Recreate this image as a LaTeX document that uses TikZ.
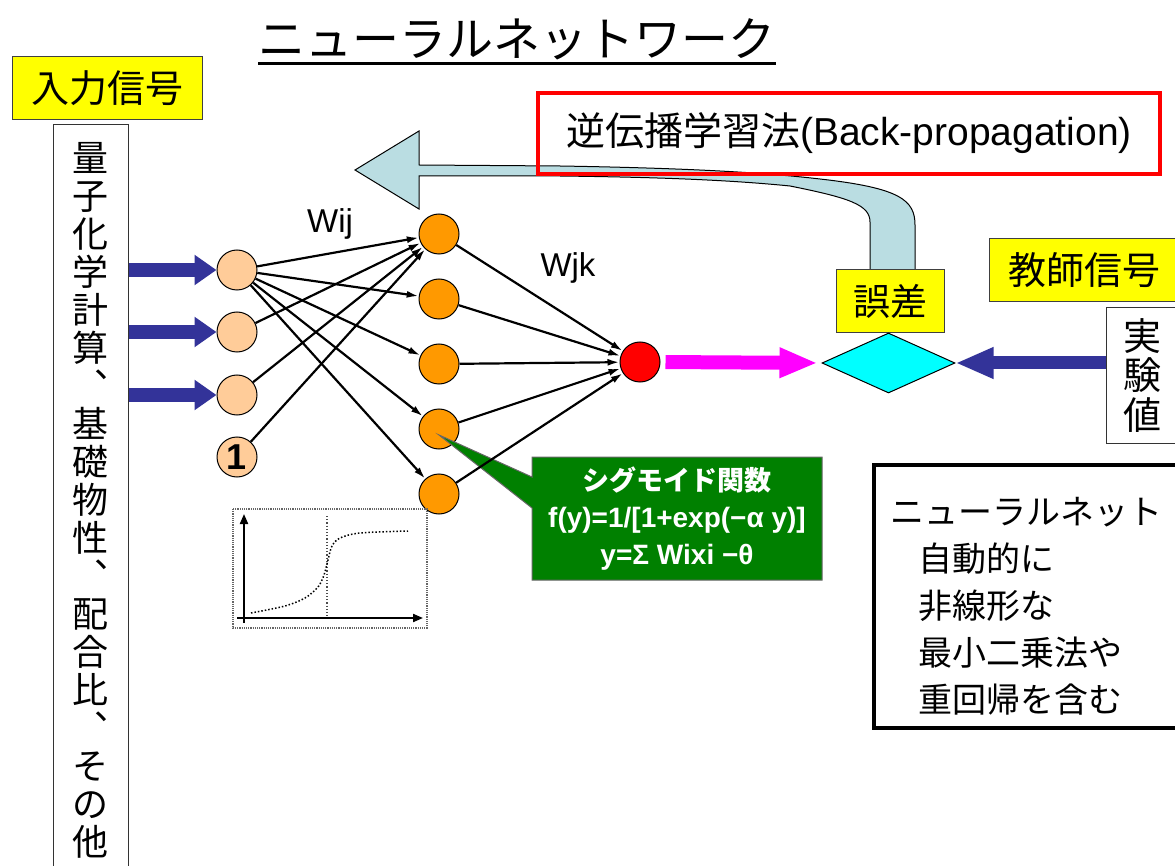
\documentclass[tikz,border=0pt]{standalone}
\usepackage{fontspec}
\setmainfont{Liberation Sans}
\newfontfamily\jp{Noto Sans CJK JP}
\usetikzlibrary{arrows.meta,positioning,calc,shapes.geometric}
\definecolor{sigyel}{HTML}{FFFF00}
\definecolor{inpeach}{HTML}{FFCC99}
\definecolor{hidorange}{HTML}{FF9900}
\definecolor{outred}{HTML}{FF0000}
\definecolor{navy}{HTML}{333399}
\definecolor{magen}{HTML}{FF00FF}
\definecolor{diacyan}{HTML}{00FFFF}
\definecolor{callgreen}{HTML}{008000}
\definecolor{bpblue}{HTML}{BADDE2}
\newcommand{\pxfont}[2]{\fontsize{#1}{#2}\selectfont}
\tikzset{
  ttl/.style={inner sep=0pt,font={\jp\pxfont{47}{47}}},
  ybox/.style={draw=black!75,line width=1pt,fill=sigyel,inner sep=0pt,
    font={\jp\pxfont{38}{40}}},
  wbox/.style={draw=black!80,line width=1pt,fill=white,inner sep=0pt,align=center},
  % --- neurons ---
  neuron/.style={circle,draw=black,line width=1pt,minimum size=40pt,inner sep=0pt},
  nin/.style={neuron,fill=inpeach},
  nhid/.style={neuron,fill=hidorange},
  nout/.style={neuron,fill=outred},
  syn/.style={-{Latex[length=12pt,width=7pt]},line width=2.2pt},
  wlab/.style={font=\pxfont{33}{33}},
  % --- fat block arrows ---
  fatin/.style={draw=navy,line width=14pt,-{Triangle[length=22pt,width=29pt]}},
  fatexp/.style={draw=navy,line width=13pt,-{Triangle[length=38pt,width=29pt]}},
  fatout/.style={draw=magen,line width=14pt,-{Triangle[length=38pt,width=28pt]}},
  calltext/.style={text=white,align=center,font={\bfseries\pxfont{28}{37}}},
}

\begin{document}
\begin{tikzpicture}[x=1pt,y=-1pt]
  \useasboundingbox (0,0) rectangle (1175,866);
  % title
  \node[ttl] (title) at (517,39) {ニューラルネットワーク};
  \draw[line width=2.5pt] ([yshift=-3.5pt]title.south west) -- ([yshift=-3.5pt]title.south east);

  % back-propagation arrow, behind the red frame
  \filldraw[fill=bpblue,draw=black,line width=1pt]
    (355,170) -- (419,131) -- (419,165) -- (560,166)
    .. controls (680,168) and (760,172) .. (820,179)
    .. controls (900,188) and (915,200) .. (915,225) -- (915,270) -- (870,270) -- (870,222)
    .. controls (870,205) and (850,198) .. (790,186)
    .. controls (720,179) and (640,177) .. (560,176) -- (419,176) -- (419,209) -- cycle;
  \node[draw=outred,line width=4pt,minimum width=622pt,minimum height=81pt,inner sep=0pt,
    font=\pxfont{39}{39}] (bp) at (849,133.5) {{\jp 逆伝播学習法}(Back-propagation)};

  % input side
  \node[ybox,minimum width=190pt,minimum height=63pt] (inlab) at (107,88.5) {入力信号};
  \node[wbox,font={\jp\pxfont{36}{38}},minimum width=75pt,minimum height=750pt] (src) at (90.5,500)
    {量\\子\\化\\学\\計\\算\\︑\\基\\礎\\物\\性\\︑\\配\\合\\比\\︑\\そ\\の\\他};

  \node[nin] (i1) at (237,270) {};
  \node[nin,below=21pt of i1] (i2) {};
  \node[nin,below=22pt of i2] (i3) {};
  \node[nin,below=21pt of i3,font=\bfseries\pxfont{36}{36}] (b) {1};

  \node[nhid] (h1) at (439,234) {};
  \node[nhid,below=24pt of h1] (h2) {};
  \node[nhid,below=24pt of h2] (h3) {};
  \node[nhid,below=24pt of h3] (h4) {};
  \node[nhid,below=24pt of h4] (h5) {};
  \node[nout] (o) at (640,362) {};

  \node[wlab] (wij) at (330,224) {Wij};
  \node[wlab] (wjk) at (568,268) {Wjk};

  % sigmoid sketch
  \draw[densely dotted,black!60,line width=1.2pt] (233,509) rectangle (427,628);
  \draw[line width=2pt,-{Triangle[length=10pt,width=8pt]}] (244,623) -- (244,514);
  \draw[line width=2pt,-{Triangle[length=10pt,width=8pt]}] (237,618) -- (423,618);
  \draw[dotted,black!70,line width=1.2pt] (327,516) -- (327,618);
  \draw[dotted,line width=1.5pt] plot[smooth] coordinates
    {(251,613) (285,606) (305,598) (318,587) (324,575) (328,560) (332,546) (340,538) (360,533) (408,531)};

  % callout on h4
  \coordinate (cnw) at (532,457);
  \coordinate (cse) at (822,580);
  \filldraw[fill=callgreen,draw=black!60,line width=1pt]
    (cnw) -- (cnw -| cse) -- (cse) -- (cse -| cnw) -- ($(cse -| cnw)+(0,-72)$)
    -- ($(h4.center)+(0,6)$) -- ($(cnw)+(0,20)$) -- cycle;
  \node[calltext] (call) at ($(cnw)!0.5!(cse)$)
    {{\jp\pxfont{27}{37}シグモイド関数}\\f(y)=1/[1+exp(−α y)]\\y=Σ Wixi −θ};

  % synapses
  \foreach \k in {1,...,5} \draw[syn] (i1) -- (h\k);
  \foreach \n in {i2,i3,b} \draw[syn] (\n) -- (h1);
  \foreach \k in {1,...,5} \draw[syn] (h\k) -- (o);
  \foreach \n in {i1,i2,i3} \draw[fatin] (src.east |- \n) -- (\n.west);

  % error and teacher signal
  \node[ybox,font={\jp\pxfont{37}{37}},minimum width=108pt,minimum height=63pt] (err) at (890,301.5) {誤差};
  \node[diamond,draw=black,line width=1pt,fill=diacyan,minimum width=133pt,minimum height=60pt,
    inner sep=0pt] (diff) at (888.5,363) {};
  \node[ybox,minimum width=190pt,minimum height=63pt] (teach) at (1084,270.5) {教師信号};
  \node[wbox,font={\jp\pxfont{38}{39.5}},minimum width=72pt,minimum height=135pt] (exp) at (1142,375.5)
    {実\\験\\値};
  \draw[fatout,shorten <=5pt,shorten >=4pt] (o.east) -- (diff.west);
  \draw[fatexp] (exp.west |- diff) -- (diff.east);

  % summary note
  \node[draw=black,line width=4pt,minimum width=306pt,minimum height=263pt,inner sep=0pt] (note) at (1027,596.5) {};
  \node[anchor=west,align=left,inner sep=0pt,font={\jp\pxfont{34}{47}}] (notetxt) at ($(note.west)+(18,10)$)
    {ニューラルネット\\\hspace*{28pt}自動的に\\\hspace*{28pt}非線形な\\\hspace*{28pt}最小二乗法や\\\hspace*{28pt}重回帰を含む};
\end{tikzpicture}
\end{document}
